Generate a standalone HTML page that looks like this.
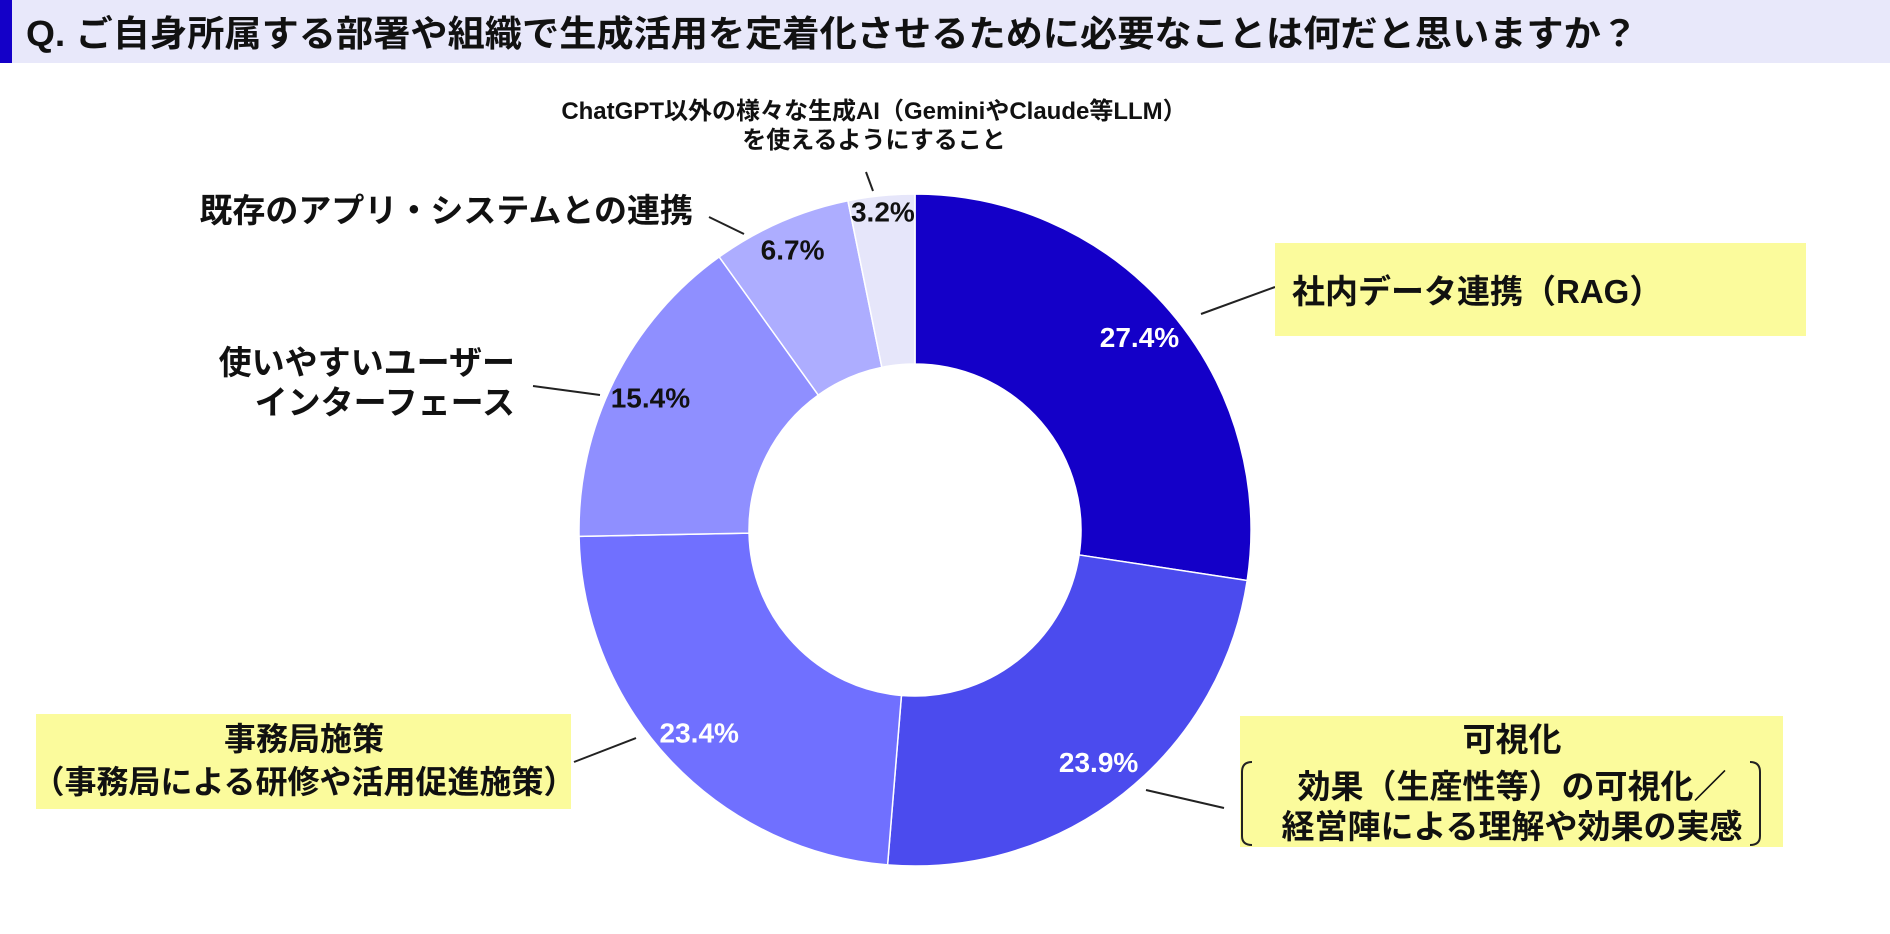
<!DOCTYPE html>
<html><head><meta charset="utf-8">
<style>
html,body{margin:0;padding:0;background:#fff;}
body{width:1890px;height:929px;overflow:hidden;font-family:"Liberation Sans","Noto Sans CJK JP",sans-serif;}
svg text{font-family:"Liberation Sans","Noto Sans CJK JP",sans-serif;font-weight:bold;}
</style></head>
<body>
<svg width="1890" height="929" viewBox="0 0 1890 929">
  <rect x="0" y="0" width="1890" height="63" fill="#e8e8fa"/>
  <rect x="0" y="0" width="12" height="63" fill="#1400c8"/>
  <text x="26" y="46" font-size="36" fill="#111" textLength="1612" lengthAdjust="spacingAndGlyphs">Q. ご自身所属する部署や組織で生成活用を定着化させるために必要なことは何だと思いますか？</text>
  <g id="slices"></g>
  <g id="pcts"></g>

  <g stroke="#222" stroke-width="2" fill="none">
    <line x1="866" y1="172" x2="873" y2="191"/>
    <line x1="709" y1="217" x2="744" y2="234"/>
    <line x1="533" y1="386" x2="600" y2="395"/>
    <line x1="1201" y1="314" x2="1275" y2="287"/>
    <line x1="574" y1="762" x2="636" y2="738"/>
    <line x1="1146" y1="790" x2="1224" y2="808"/>
  </g>

  <text x="874" y="119" font-size="24" text-anchor="middle" fill="#111">ChatGPT以外の様々な生成AI（GeminiやClaude等LLM）</text>
  <text x="874" y="148" font-size="24" text-anchor="middle" fill="#111">を使えるようにすること</text>

  <text x="693" y="222" font-size="33" text-anchor="end" fill="#111">既存のアプリ・システムとの連携</text>

  <text x="515" y="374" font-size="33" text-anchor="end" fill="#111">使いやすいユーザー</text>
  <text x="515" y="414" font-size="33" text-anchor="end" fill="#111">インターフェース</text>

  <rect x="1275" y="243" width="531" height="93" fill="#fbfb9c"/>
  <text x="1292" y="303" font-size="33" fill="#111">社内データ連携（RAG）</text>

  <rect x="36" y="714" width="535" height="95" fill="#fbfb9c"/>
  <text x="304" y="750" font-size="32" text-anchor="middle" fill="#111">事務局施策</text>
  <text x="304" y="793" font-size="32" text-anchor="middle" fill="#111">（事務局による研修や活用促進施策）</text>

  <rect x="1240" y="716" width="543" height="131" fill="#fbfb9c"/>
  <text x="1512" y="751" font-size="33" text-anchor="middle" fill="#111">可視化</text>
  <text x="1512" y="798" font-size="33" text-anchor="middle" fill="#111">効果（生産性等）の可視化／</text>
  <text x="1512" y="838" font-size="33" text-anchor="middle" fill="#111">経営陣による理解や効果の実感</text>
  <path d="M1252 762 Q1242 762 1242 772 L1242 836 Q1242 845 1252 845" stroke="#222" stroke-width="2" fill="none"/>
  <path d="M1750 762 Q1760 762 1760 772 L1760 836 Q1760 845 1750 845" stroke="#222" stroke-width="2" fill="none"/>
</svg>
<script>
const categories = ["社内データ連携（RAG）","可視化","事務局施策","使いやすいユーザーインターフェース","既存のアプリ・システムとの連携","ChatGPT以外の様々な生成AI"];
const values = [27.4, 23.9, 23.4, 15.4, 6.7, 3.2];
const pctLabels = ["27.4%","23.9%","23.4%","15.4%","6.7%","3.2%"];
const colors = ["#1400c8","#4b4bee","#7070ff","#8f8fff","#adadff","#e6e6fa"];
const labelColors = ["#fff","#fff","#fff","#111","#111","#111"];

const NS = "http://www.w3.org/2000/svg";
const cx = 915, cy = 530, R = 336, r = 166;
const total = values.reduce((a,b)=>a+b,0);
function pt(rad, frac){ const a = frac*2*Math.PI - Math.PI/2; return [cx+rad*Math.cos(a), cy+rad*Math.sin(a)]; }
const gS = document.getElementById('slices');
const gP = document.getElementById('pcts');
let acc = 0;
values.forEach((v,i)=>{
  const f0 = acc/total, f1 = (acc+v)/total; acc += v;
  const large = (f1-f0) > 0.5 ? 1 : 0;
  const [x0,y0]=pt(R,f0),[x1,y1]=pt(R,f1),[x2,y2]=pt(r,f1),[x3,y3]=pt(r,f0);
  const p = document.createElementNS(NS,'path');
  p.setAttribute('d',`M${x0} ${y0} A${R} ${R} 0 ${large} 1 ${x1} ${y1} L${x2} ${y2} A${r} ${r} 0 ${large} 0 ${x3} ${y3} Z`);
  p.setAttribute('fill',colors[i]);
  p.setAttribute('stroke','#fff');
  p.setAttribute('stroke-width','1.5');
  
  
  gS.appendChild(p);
  const fm = (f0+f1)/2;
  const rr = v < 5 ? R-16 : (v < 10 ? R-30 : R-40);
  const [tx,ty] = pt(rr, fm);
  const t = document.createElementNS(NS,'text');
  t.setAttribute('x',tx); t.setAttribute('y',ty+10);
  t.setAttribute('text-anchor','middle');
  t.setAttribute('font-size','28');
  t.setAttribute('fill',labelColors[i]);
  t.textContent = pctLabels[i];
  
  
  gP.appendChild(t);
});
</script>
</body></html>
